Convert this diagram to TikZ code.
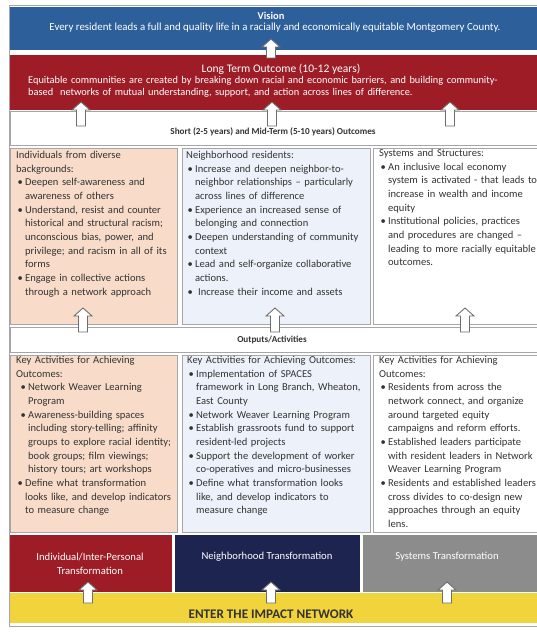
\documentclass[tikz,border=0pt]{standalone}
\usepackage{fontspec}
\setmainfont{Carlito}
\definecolor{visblue}{HTML}{2D5F9A}
\definecolor{ltred}{HTML}{9D1C26}
\definecolor{peach}{HTML}{F8DCC9}
\definecolor{lblue}{HTML}{EDF2FA}
\definecolor{navy}{HTML}{1D2450}
\definecolor{sysgray}{HTML}{8C8C8C}
\definecolor{yell}{HTML}{F1D33B}
\definecolor{framegray}{HTML}{A6A6A6}
\definecolor{txtgray}{HTML}{333333}
\definecolor{arrgray}{HTML}{6E6E6E}
\newcommand\bitem[2][9pt]{\par\noindent\hangindent=#1\hangafter=1\makebox[#1][l]{\hspace{1.5pt}\textbullet}#2\par}
\newcommand\bitemo[1]{\par\noindent\hangindent=12pt\hangafter=1\makebox[12pt][l]{\hspace{4.5pt}\textbullet}#1\par}
\tikzset{
  box/.style={draw=framegray, line width=0.8pt},
  coltext/.style={anchor=north west, text width=220, align=left, inner sep=0pt,
    font=\fontsize{10.6}{13.7}\selectfont, text=txtgray},
  arrstyle/.style={fill=white, draw=arrgray, line width=0.9pt, line join=miter},
  pics/uparr/.style={code={\draw[arrstyle] (-4.5,0) -- (-4.5,{-(#1)+8}) -- (-9,{-(#1)+8}) -- (0,{-(#1)}) -- (9,{-(#1)+8}) -- (4.5,{-(#1)+8}) -- (4.5,0) -- cycle;}},
}
\begin{document}
\begin{tikzpicture}[x=1bp,y=-1bp]
\useasboundingbox (0,0) rectangle (537,633);
\fill[white] (0,0) rectangle (537,633);
% outer frame
\draw[framegray, line width=0.8pt] (9,5) rectangle (537,626);
% vision
\fill[visblue] (10,7) rectangle (537,50);
\node[text=white, font=\bfseries\fontsize{10.5}{12}\selectfont, inner sep=0pt] (vtitle) at (271,16) {Vision};
\node[text=white, font=\fontsize{10.9}{12}\selectfont, inner sep=0pt] (vtext) at (275,28) {Every resident leads a full and quality life in a racially and economically equitable Montgomery County.};
% long term
\fill[ltred] (10,55) rectangle (537,110);
\node[text=white, font=\fontsize{11.6}{13}\selectfont, inner sep=0pt] (lttitle) at (281,69) {Long Term Outcome (10-12 years)};
\node[text=white, font=\fontsize{10.4}{12.3}\selectfont, inner sep=0pt, anchor=north west, text width=500, align=left] (lttext) at (28,76) {Equitable communities are created by breaking down racial and economic barriers, and building community-\newline based~ networks of mutual understanding, support, and action across lines of difference.};
% short band
\draw[box, fill=white] (10,111) rectangle (537,145);
\node[font=\bfseries\fontsize{9.2}{11}\selectfont, text=txtgray, inner sep=0pt] (short) at (273,132) {Short (2-5 years) and Mid-Term (5-10 years) Outcomes};
% upper columns
\draw[box, fill=peach] (10,148) rectangle (177,324);
\draw[box, fill=lblue] (182,148) rectangle (370,324);
\draw[box, fill=white] (373,148) rectangle (537,324);
\node[coltext] (c1top) at (16,151) {\noindent Individuals from diverse\newline backgrounds:
\bitem{Deepen self-awareness and\newline awareness of others}
\bitem{Understand, resist and counter\newline historical and structural racism;\newline unconscious bias, power, and\newline privilege; and racism in all of its\newline forms}
\bitem{Engage in collective actions\newline through a network approach}};
\node[coltext] (c2top) at (186,151) {\noindent Neighborhood residents:
\bitem{Increase and deepen neighbor-to-\newline neighbor relationships -- particularly\newline across lines of difference}
\bitem{Experience an increased sense of\newline belonging and connection}
\bitem{Deepen understanding of community\newline context}
\bitem{Lead and self-organize collaborative\newline actions.}
\bitem[12pt]{Increase their income and assets}};
\node[coltext] (c3top) at (379,149) {\noindent Systems and Structures:
\bitem{An inclusive local economy\newline system is activated - that leads to\newline increase in wealth and income\newline equity}
\bitem{Institutional policies, practices\newline and procedures are changed --\newline leading to more racially equitable\newline outcomes.}};
% outputs band
\draw[box, fill=white] (10,327) rectangle (537,352);
\node[font=\bfseries\fontsize{9.2}{11}\selectfont, text=txtgray, inner sep=0pt] (outputs) at (272,340) {Outputs/Activities};
% lower columns
\draw[box, fill=peach] (10,355) rectangle (177,532);
\draw[box, fill=lblue] (182,355) rectangle (370,532);
\draw[box, fill=white] (373,355) rectangle (537,532);
\node[coltext] (c1bot) at (16,356) {\noindent Key Activities for Achieving\newline Outcomes:
\bitemo{Network Weaver Learning\newline Program}
\bitemo{Awareness-building spaces\newline including story-telling; affinity\newline groups to explore racial identity;\newline book groups; film viewings;\newline history tours; art workshops}
\bitem{Define what transformation\newline looks like, and develop indicators\newline to measure change}};
\node[coltext] (c2bot) at (187,356) {\noindent Key Activities for Achieving Outcomes:
\bitem{Implementation of SPACES\newline framework in Long Branch, Wheaton,\newline East County}
\bitem{Network Weaver Learning Program}
\bitem{Establish grassroots fund to support\newline resident-led projects}
\bitem{Support the development of worker\newline co-operatives and micro-businesses}
\bitem{Define what transformation looks\newline like, and develop indicators to\newline measure change}};
\node[coltext] (c3bot) at (379,356) {\noindent Key Activities for Achieving\newline Outcomes:
\bitem{Residents from across the\newline network connect, and organize\newline around targeted equity\newline campaigns and reform efforts.}
\bitem{Established leaders participate\newline with resident leaders in Network\newline Weaver Learning Program}
\bitem{Residents and established leaders\newline cross divides to co-design new\newline approaches through an equity\newline lens.}};
% transformation boxes
\fill[ltred] (10,535) rectangle (172,592);
\fill[navy] (175,535) rectangle (360,592);
\fill[sysgray] (363,535) rectangle (537,592);
\node[text=white, font=\fontsize{10.7}{14}\selectfont, align=center, inner sep=0pt] (indiv) at (90,564) {Individual/Inter-Personal\\Transformation};
\node[text=white, font=\fontsize{10.7}{14}\selectfont, inner sep=0pt] (neigh) at (267,557) {Neighborhood Transformation};
\node[text=white, font=\fontsize{10.7}{14}\selectfont, inner sep=0pt] (systems) at (447,557) {Systems Transformation};
% yellow
\fill[yell] (10,593) rectangle (537,623);
\node[font=\bfseries\fontsize{13.2}{15}\selectfont, text=txtgray, inner sep=0pt] (enter) at (271,614) {ENTER THE IMPACT NETWORK};
% arrows
\pic at (271,58) {uparr=19};
\pic at (81,126) {uparr=24};
\pic at (272,126) {uparr=24};
\pic at (450,126) {uparr=24};
\pic at (83,332) {uparr=24};
\pic at (275,332) {uparr=24};
\pic at (465,332) {uparr=24};
\pic at (88,603) {uparr=21};
\pic at (271,603) {uparr=21};
\pic at (447,603) {uparr=21};
\end{tikzpicture}
\end{document}
